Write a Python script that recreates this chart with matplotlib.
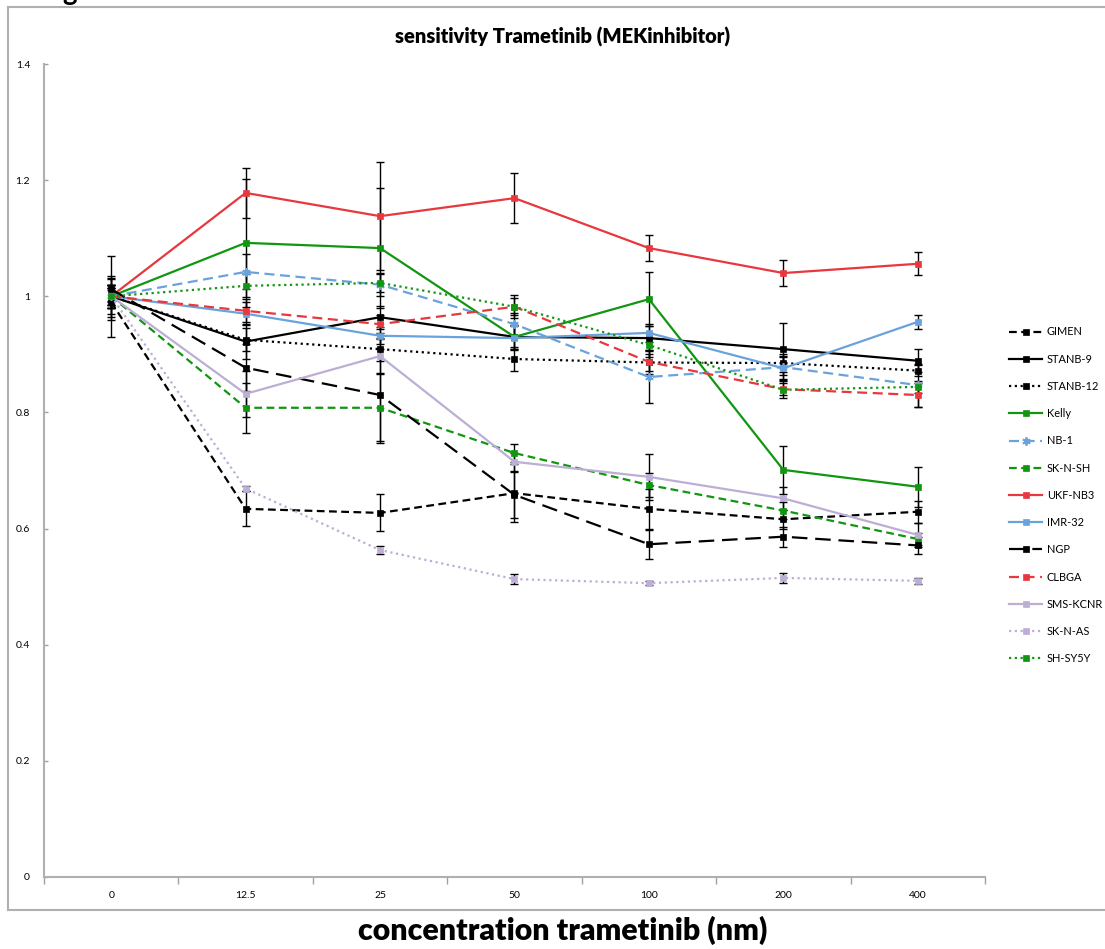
import matplotlib
matplotlib.use("Agg")
import matplotlib.pyplot as plt
from matplotlib.lines import Line2D
import numpy as np

plt.rcParams['font.family'] = ['Lato', 'DejaVu Sans']

categories = ['0', '12.5', '25', '50', '100', '200', '400']

series_names = ['GIMEN', 'STANB-9', 'STANB-12', 'Kelly', 'NB-1', 'SK-N-SH', 'UKF-NB3',
                'IMR-32', 'NGP', 'CLBGA', 'SMS-KCNR', 'SK-N-AS', 'SH-SY5Y']

GIMEN = [0.99, 0.634, 0.627, 0.661, 0.634, 0.616, 0.629]
GIMEN_err = [0.03, 0.03, 0.032, 0.05, 0.035, 0.016, 0.019]
STANB9 = [1.0, 0.922, 0.964, 0.930, 0.928, 0.909, 0.889]
STANB9_err = [0.015, 0.03, 0.02, 0.02, 0.02, 0.045, 0.02]
STANB12 = [1.0, 0.925, 0.909, 0.892, 0.886, 0.885, 0.872]
STANB12_err = [0.02, 0.02, 0.02, 0.02, 0.015, 0.015, 0.01]
Kelly = [1.0, 1.092, 1.083, 0.930, 0.995, 0.701, 0.672]
Kelly_err = [0.07, 0.11, 0.103, 0.02, 0.047, 0.042, 0.034]
NB1 = [1.0, 1.042, 1.020, 0.952, 0.861, 0.878, 0.847]
NB1_err = [0.02, 0.03, 0.02, 0.02, 0.045, 0.02, 0.037]
SKNSH = [1.0, 0.808, 0.808, 0.730, 0.675, 0.631, 0.582]
SKNSH_err = [0.03, 0.043, 0.06, 0.015, 0.02, 0.015, 0.01]
UKF = [1.0, 1.178, 1.138, 1.169, 1.083, 1.040, 1.056]
UKF_err = [0.035, 0.043, 0.093, 0.043, 0.022, 0.023, 0.02]
IMR = [1.0, 0.970, 0.932, 0.928, 0.937, 0.876, 0.956]
IMR_err = [0.015, 0.02, 0.015, 0.02, 0.015, 0.02, 0.012]
NGP = [1.012, 0.877, 0.830, 0.658, 0.573, 0.586, 0.571]
NGP_err = [0.02, 0.04, 0.08, 0.04, 0.025, 0.017, 0.015]
CLBGA = [1.0, 0.975, 0.952, 0.982, 0.887, 0.840, 0.830]
CLBGA_err = [0.015, 0.02, 0.015, 0.015, 0.02, 0.01, 0.02]
SMS = [1.0, 0.832, 0.897, 0.715, 0.689, 0.652, 0.589]
SMS_err = [0.02, 0.04, 0.03, 0.015, 0.04, 0.02, 0.02]
SKNAS = [1.0, 0.669, 0.563, 0.513, 0.506, 0.515, 0.510]
SKNAS_err = [0.01, 0.005, 0.007, 0.008, 0.004, 0.008, 0.005]
SHSY5Y = [1.0, 1.018, 1.023, 0.982, 0.916, 0.839, 0.844]
SHSY5Y_err = [0.02, 0.02, 0.015, 0.02, 0.02, 0.015, 0.01]

values = [GIMEN, STANB9, STANB12, Kelly, NB1, SKNSH, UKF, IMR, NGP, CLBGA, SMS, SKNAS, SHSY5Y]
errors = [GIMEN_err, STANB9_err, STANB12_err, Kelly_err, NB1_err, SKNSH_err, UKF_err,
          IMR_err, NGP_err, CLBGA_err, SMS_err, SKNAS_err, SHSY5Y_err]

BLACK = '#000000'
GREEN = '#119611'
RED = '#e8373e'
BLUE = '#6aa2dc'
LAV = '#bcaed4'

styles = [
    dict(color=BLACK, ls=(0, (3.5, 2)), marker='s'),
    dict(color=BLACK, ls='-', marker='s'),
    dict(color=BLACK, ls=(0, (1, 1.6)), marker='s'),
    dict(color=GREEN, ls='-', marker='s'),
    dict(color=BLUE, ls=(0, (4.5, 2.5)), marker=(6, 2, 0)),
    dict(color=GREEN, ls=(0, (3.5, 2)), marker='s'),
    dict(color=RED, ls='-', marker='s'),
    dict(color=BLUE, ls='-', marker='s'),
    dict(color=BLACK, ls=(0, (7, 3.5)), marker='s'),
    dict(color=RED, ls=(0, (4.5, 2.5)), marker='s'),
    dict(color=LAV, ls='-', marker='s'),
    dict(color=LAV, ls=(0, (1, 1.6)), marker='s'),
    dict(color=GREEN, ls=(0, (1, 1.6)), marker='s'),
]

fig = plt.figure(figsize=(11.05, 9.49), dpi=100)
ax = fig.add_axes([44 / 1105, 1 - 877 / 949, (985 - 44) / 1105, (877 - 64) / 949])

x = np.arange(len(categories))

for vals, errs in zip(values, errors):
    ax.errorbar(x, vals, yerr=errs, fmt='none', ecolor='black', elinewidth=1.0,
                capsize=3, capthick=1.0, zorder=2)

handles = []
for name, vals, st in zip(series_names, values, styles):
    ms = 6 if st['marker'] != 's' else 4.0
    mew = 1.3 if st['marker'] != 's' else 0.5
    ln, = ax.plot(x, vals, color=st['color'], linestyle=st['ls'], linewidth=1.6,
                  marker=st['marker'], markersize=ms, markeredgewidth=mew,
                  markeredgecolor=st['color'], markerfacecolor=st['color'], zorder=3,
                  label=name)
    handles.append(ln)

ax.set_xlim(-0.5, 6.5)
ax.set_ylim(0, 1.4)
ax.set_yticks(np.arange(0, 1.41, 0.2))
ax.set_yticklabels(['0', '0.2', '0.4', '0.6', '0.8', '1', '1.2', '1.4'])
ax.set_xticks(x)
ax.set_xticklabels(categories)
ax.set_xticks(np.arange(-0.5, 6.6, 1.0), minor=True)
ax.tick_params(axis='x', which='major', length=0, pad=10, labelsize=7.5)
ax.tick_params(axis='x', which='minor', length=5, direction='out', color='#a0a0a0', width=1)
ax.tick_params(axis='y', which='major', length=3, direction='in', color='#a0a0a0',
               width=1, labelsize=7.5, pad=10)

for sp in ['top', 'right']:
    ax.spines[sp].set_visible(False)
for sp in ['left', 'bottom']:
    ax.spines[sp].set_color('#b0b0b0')
    ax.spines[sp].set_linewidth(1.5)

fig.text(563 / 1105, 1 - 37 / 949, 'sensitivity Trametinib (MEKinhibitor)', ha='center',
         va='center', fontsize=14.5, fontweight='heavy')
fig.text(563 / 1105, 1 - 930 / 949, 'concentration trametinib (nm)', ha='center',
         va='center', fontsize=21.8, fontweight='heavy')
fig.text(70 / 1105, 1.0, 'g', ha='center', va='baseline', fontsize=20, fontweight='bold')

# outer frame
frame_color = '#b0b0b0'
fig.add_artist(Line2D([8 / 1105, 1.0], [1 - 7 / 949, 1 - 7 / 949], color=frame_color, lw=1.5))
fig.add_artist(Line2D([8 / 1105, 8 / 1105], [1 - 7 / 949, 1 - 910 / 949], color=frame_color, lw=1.5))
fig.add_artist(Line2D([8 / 1105, 1.0], [1 - 910 / 949, 1 - 910 / 949], color=frame_color, lw=1.5))

fig.legend(handles=handles, loc='upper left', bbox_to_anchor=(1005 / 1105, 1 - 322 / 949),
           frameon=False, fontsize=7.9, handlelength=3.0, handletextpad=0.4,
           labelspacing=1.48, numpoints=1, borderaxespad=0)

fig.savefig('out.png', dpi=100)
